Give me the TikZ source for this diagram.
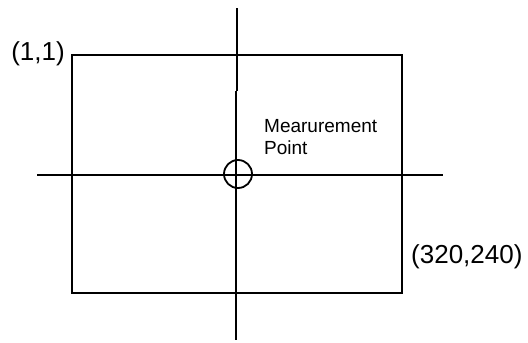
\documentclass[tikz,border=0pt]{standalone}
\usepackage{fontspec}
\setmainfont{Liberation Sans}
\usetikzlibrary{positioning}

\tikzset{
  frameline/.style={line width=1.8pt,black},
  crossline/.style={line width=1.8pt,black,line cap=butt},
  cornerlabel/.style={inner sep=0pt,font=\fontsize{26}{30}\selectfont},
  pointlabel/.style={inner sep=0pt,align=left,font=\fontsize{19}{22}\selectfont}
}

\begin{document}
\begin{tikzpicture}[x=1pt,y=-1pt]
\useasboundingbox (0,0) rectangle (528,343);
% frame
\coordinate (tl) at (72,55);
\coordinate (br) at (402,293);
\draw[frameline] (tl) rectangle (br);
% cross lines
\coordinate (vtop) at (237,8);
\coordinate (vjoga) at (237,91);
\coordinate (vjogb) at (236,91);
\coordinate (vbot) at (236,340);
\coordinate (hleft) at (37,175);
\coordinate (hright) at (443,175);
\draw[crossline] (vtop) -- (vjoga);
\draw[crossline] (vjogb) -- (vbot);
\draw[crossline] (hleft) -- (hright);
% measurement point
\node[draw,circle,line width=1.8pt,minimum size=28pt,inner sep=0pt] (mp) at (238,174) {};
\node[pointlabel,anchor=north west] (mplabel) at (264,119) {Mearurement\\Point};
% corner labels
\node[cornerlabel,anchor=east] (first) at ([xshift=-7pt,yshift=1pt]tl) {(1,1)};
\node[cornerlabel,anchor=west] (last) at (411,256.5) {(320,240)};
\end{tikzpicture}
\end{document}
